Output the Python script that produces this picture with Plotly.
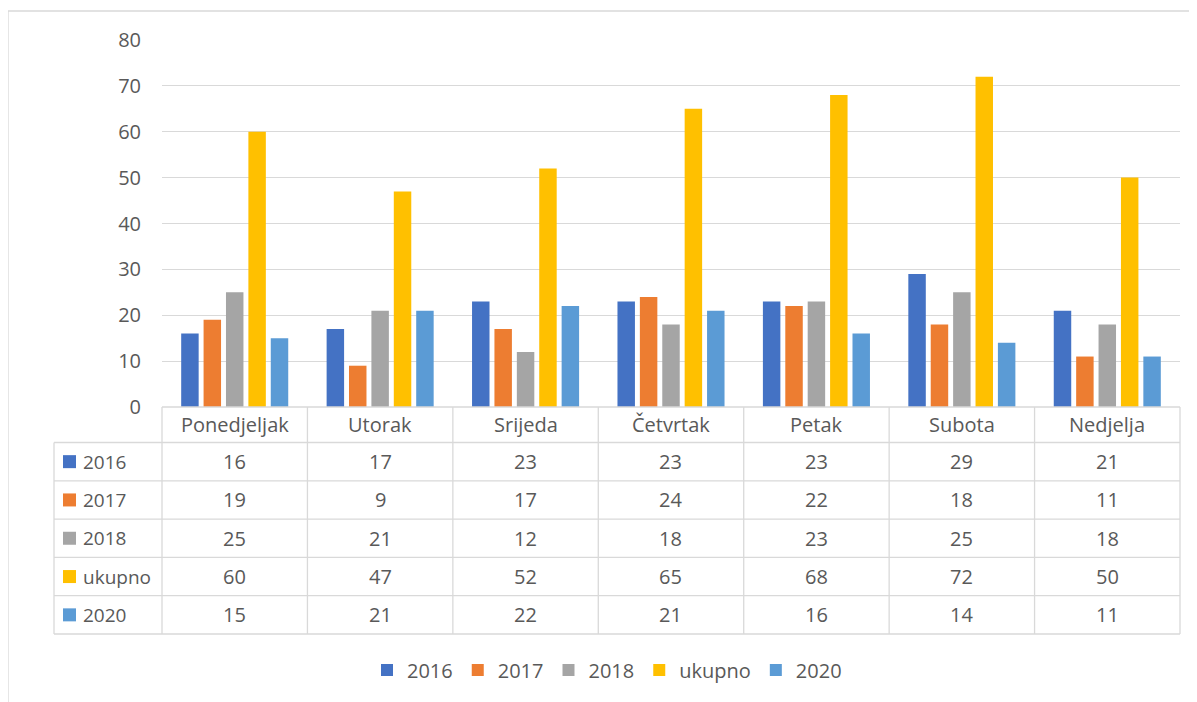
import plotly.graph_objects as go

categories = ["Ponedjeljak", "Utorak", "Srijeda", "Četvrtak", "Petak", "Subota", "Nedjelja"]
series_names = ["2016", "2017", "2018", "ukupno", "2020"]
v2016 = [16, 17, 23, 23, 23, 29, 21]
v2017 = [19, 9, 17, 24, 22, 18, 11]
v2018 = [25, 21, 12, 18, 23, 25, 18]
vukupno = [60, 47, 52, 65, 68, 72, 50]
v2020 = [15, 21, 22, 21, 16, 14, 11]
y_ticks = [0, 10, 20, 30, 40, 50, 60, 70, 80]

series_values = [v2016, v2017, v2018, vukupno, v2020]
colors = ["#4472C4", "#ED7D31", "#A5A5A5", "#FFC000", "#5B9BD5"]

OFF = 8  # page body margin
W, H = 1197 - OFF, 702 - OFF
# screen-space plot area: x 162..1180, y 40..407
L = 162 - OFF
T = 40 - OFF
PW = 1180 - 162
PH = 407 - 40
R = W - L - PW
B = H - T - PH
FONT = "Open Sans"
TXT = "#595959"
GRID = "#D9D9D9"
FS = 20


def fx(p):
    # screen px -> paper x
    return (p - OFF - L) / PW


def fy(p):
    # screen px -> paper y
    return (T + PH - (p - OFF)) / PH


fig = go.Figure()
for name, vals, col in zip(series_names, series_values, colors):
    fig.add_trace(go.Bar(x=categories, y=vals, name=name, marker=dict(color=col, line=dict(width=0))))

shapes = []
annotations = []

# chart border (top and left visible)
shapes.append(dict(type="rect", xref="paper", yref="paper", x0=fx(8), x1=fx(1215), y0=fy(11), y1=fy(720),
                   line=dict(color=GRID, width=1.3), fillcolor="rgba(0,0,0,0)", layer="below"))

# data table geometry (screen px)
n = len(categories)
col_w = PW / n
col_edges = [162 + i * col_w for i in range(n + 1)]
header_top = 407
header_bot = 442.5
row_h = 38.3
row_edges = [header_bot + i * row_h for i in range(len(series_names) + 1)]
table_left = 54
line_style = dict(color=GRID, width=1.3)

shapes.append(dict(type="line", xref="paper", yref="paper", x0=fx(162), x1=fx(col_edges[-1]),
                   y0=fy(header_top), y1=fy(header_top), line=line_style))
for ry in row_edges:
    shapes.append(dict(type="line", xref="paper", yref="paper", x0=fx(table_left), x1=fx(col_edges[-1]),
                       y0=fy(ry), y1=fy(ry), line=line_style))
for cx in col_edges:
    shapes.append(dict(type="line", xref="paper", yref="paper", x0=fx(cx), x1=fx(cx),
                       y0=fy(header_top), y1=fy(row_edges[-1]), line=line_style))
shapes.append(dict(type="line", xref="paper", yref="paper", x0=fx(table_left), x1=fx(table_left),
                   y0=fy(header_bot), y1=fy(row_edges[-1]), line=line_style))

for i, c in enumerate(categories):
    annotations.append(dict(x=fx(col_edges[i] + col_w / 2), y=fy((header_top + header_bot) / 2),
                            xref="paper", yref="paper", text=c, showarrow=False,
                            xanchor="center", yanchor="middle", font=dict(family=FONT, size=FS, color=TXT)))

for r, (name, vals, col) in enumerate(zip(series_names, series_values, colors)):
    cy = (row_edges[r] + row_edges[r + 1]) / 2
    shapes.append(dict(type="rect", xref="paper", yref="paper", x0=fx(63), x1=fx(76),
                       y0=fy(cy - 6.5), y1=fy(cy + 6.5), fillcolor=col, line=dict(width=0)))
    annotations.append(dict(x=fx(81), y=fy(cy), xref="paper", yref="paper", text=name, showarrow=False,
                            xanchor="left", yanchor="middle", font=dict(family=FONT, size=FS - 1, color=TXT)))
    for i, v in enumerate(vals):
        annotations.append(dict(x=fx(col_edges[i] + col_w / 2), y=fy(cy), xref="paper", yref="paper",
                                text=str(v), showarrow=False, xanchor="center", yanchor="middle",
                                font=dict(family=FONT, size=FS, color=TXT)))

fig.update_layout(
    width=W, height=H,
    margin=dict(l=L, r=R, t=T, b=B, pad=0),
    paper_bgcolor="white", plot_bgcolor="white",
    barmode="group", bargap=0.23, bargroupgap=0.22,
    font=dict(family=FONT, size=FS, color=TXT),
    xaxis=dict(showticklabels=False, showgrid=False, zeroline=False, showline=False, ticks=""),
    yaxis=dict(range=[0, 80], tickvals=y_ticks, showgrid=True, gridcolor=GRID, gridwidth=1.3,
               zeroline=False, showline=False, ticks="", ticklabelstandoff=20,
               tickfont=dict(family=FONT, size=FS, color=TXT)),
    legend=dict(orientation="h", x=fx(607), xanchor="center", y=fy(670), yanchor="middle",
                font=dict(family=FONT, size=FS, color=TXT), itemwidth=30, traceorder="normal"),
    shapes=shapes,
    annotations=annotations,
)

fig.write_html("out.html")
